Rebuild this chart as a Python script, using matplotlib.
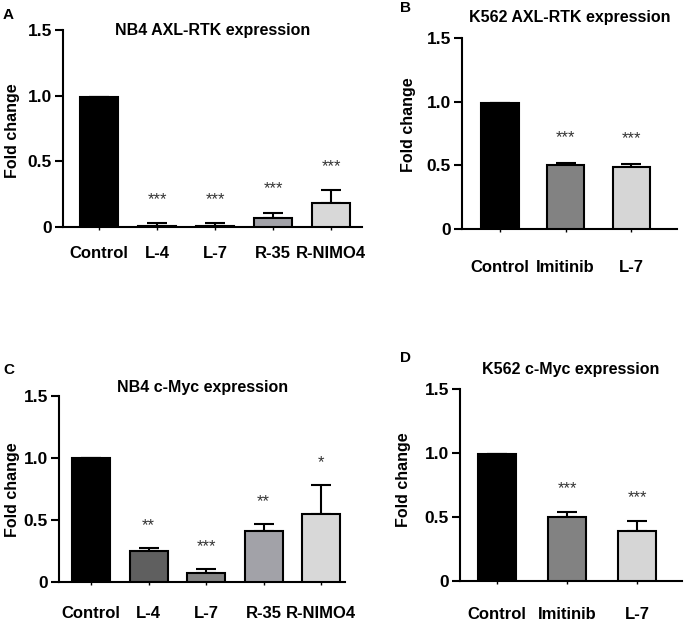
import matplotlib
matplotlib.use('Agg')
import matplotlib.pyplot as plt

plt.rcParams['font.family'] = ['Liberation Sans', 'DejaVu Sans']

# panel data
cats_nb4 = ['Control', 'L-4', 'L-7', 'R-35', 'R-NIMO4']
cats_k562 = ['Control', 'Imitinib', 'L-7']

axl_nb4 = [0.99, 0.01, 0.01, 0.07, 0.18]
axl_nb4_err = [0.0, 0.02, 0.02, 0.04, 0.10]
axl_nb4_sig = ['', '***', '***', '***', '***']

axl_k562 = [0.99, 0.50, 0.49]
axl_k562_err = [0.0, 0.02, 0.02]
axl_k562_sig = ['', '***', '***']

myc_nb4 = [1.0, 0.25, 0.07, 0.41, 0.55]
myc_nb4_err = [0.0, 0.025, 0.035, 0.055, 0.235]
myc_nb4_sig = ['', '**', '***', '**', '*']

myc_k562 = [0.99, 0.50, 0.39]
myc_k562_err = [0.0, 0.04, 0.08]
myc_k562_sig = ['', '***', '***']

col_nb4 = ['#000000', '#5f5f5f', '#858585', '#a2a2a8', '#d8d8d8']
col_k562 = ['#000000', '#828282', '#d6d6d6']


def panel(rect, cats, vals, errs, sig, cols, title, title_y, xlim, width, xpad, star_off, lab_xy):
    ax = fig.add_axes(rect)
    x = list(range(len(cats)))
    ax.bar(x, vals, width=width, color=cols, edgecolor='black', linewidth=1.5, zorder=3)
    ax.errorbar(x, vals, yerr=[[0]*len(vals), errs], fmt='none', ecolor='black',
                elinewidth=1.5, capsize=7, capthick=1.5, zorder=2, clip_on=False)
    for xi, v, e, s in zip(x, vals, errs, sig):
        if s:
            ax.text(xi, v + e + star_off, s, ha='center', va='center',
                    fontsize=12, color='#333333')
    ax.set_xlim(*xlim)
    ax.set_ylim(0, 1.5)
    ax.set_yticks([0, 0.5, 1.0, 1.5])
    ax.set_yticklabels(['0', '0.5', '1.0', '1.5'], fontweight='bold', fontsize=12.5)
    ax.set_xticks(x)
    ax.set_xticklabels(cats, fontweight='bold', fontsize=12)
    ax.tick_params(axis='y', length=6, width=1.5, pad=2)
    ax.tick_params(axis='x', length=2, width=1, pad=xpad)
    ax.set_ylabel('Fold change', fontweight='bold', fontsize=11.5)
    ax.yaxis.set_label_coords(*lab_xy)
    for sp in ['top', 'right']:
        ax.spines[sp].set_visible(False)
    for sp in ['left', 'bottom']:
        ax.spines[sp].set_linewidth(1.5)
    ax.text(0.5, title_y, title, transform=ax.transAxes, ha='center', va='center',
            fontweight='bold', fontsize=11.5)
    return ax


fig = plt.figure(figsize=(6.85, 6.23), dpi=100)

panel([0.092, 0.6356, 0.4365, 0.316], cats_nb4, axl_nb4, axl_nb4_err, axl_nb4_sig,
      col_nb4, 'NB4 AXL-RTK expression', 1.0, (-0.62, 4.53), 0.66, 12, 0.18, (-0.144, 0.49))
panel([0.6745, 0.6324, 0.314, 0.3066], cats_k562, axl_k562, axl_k562_err, axl_k562_sig,
      col_k562, 'K562 AXL-RTK expression', 1.105, (-0.58, 2.7), 0.57, 20, 0.2, (-0.214, 0.545))
panel([0.0861, 0.0658, 0.418, 0.2986], cats_nb4, myc_nb4, myc_nb4_err, myc_nb4_sig,
      col_nb4, 'NB4 c-Myc expression', 1.043, (-0.56, 4.42), 0.66, 15, 0.18, (-0.136, 0.495))
panel([0.6715, 0.0674, 0.324, 0.308], cats_k562, myc_k562, myc_k562_err, myc_k562_sig,
      col_k562, 'K562 c-Myc expression', 1.1, (-0.53, 2.64), 0.54, 17, 0.18, (-0.221, 0.526))

for lab, px, py in [('A', 3, 15), ('B', 400, 8), ('C', 3, 370), ('D', 400, 358)]:
    fig.text(px / 685, 1 - py / 623, lab, fontweight='bold', fontsize=11,
             ha='left', va='center')

fig.savefig('out.png', dpi=100)
